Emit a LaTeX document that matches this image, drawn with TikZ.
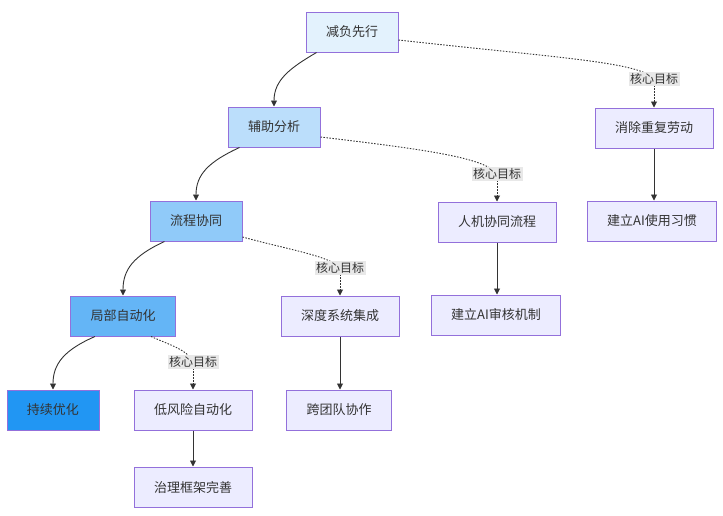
\documentclass[tikz,border=0pt]{standalone}
\usepackage{fontspec}
\setmainfont{Noto Sans CJK SC}
\usetikzlibrary{arrows.meta}
\definecolor{bordc}{HTML}{9370DB}
\definecolor{deff}{HTML}{ECECFF}
\definecolor{fa}{HTML}{E3F2FD}
\definecolor{fb}{HTML}{BBDEFB}
\definecolor{fc}{HTML}{90CAF9}
\definecolor{fd}{HTML}{64B5F6}
\definecolor{fe}{HTML}{2196F3}
\definecolor{txt}{HTML}{333333}
\definecolor{lblbg}{HTML}{E8E8E8}
\tikzset{
  box/.style={draw=bordc, line width=1pt, fill=deff, minimum height=40pt, inner xsep=20pt, inner ysep=0pt, text=txt, font=\fontsize{13}{15}\selectfont},
  lbl/.style={fill=lblbg, inner sep=1.5pt, text=txt, font=\fontsize{12}{14}\selectfont},
  edge/.style={draw=txt, line width=0.9pt},
  tip/.style={-{Triangle[width=6pt,length=6pt]}},
  dotedge/.style={draw=txt, line width=0.9pt, dash pattern=on 1.5pt off 1.5pt},
}
\begin{document}
\begin{tikzpicture}[x=1pt,y=-1pt]
\useasboundingbox (0,0) rectangle (723,515);
\node[box, fill=fa] (a) at (352,32) {减负先行};
\node[box] (b) at (654,128) {消除重复劳动};
\node[box] (c) at (652,221) {建立AI使用习惯};
\node[box, fill=fb] (d) at (274,127) {辅助分析};
\node[box] (e) at (497,222) {人机协同流程};
\node[box] (f) at (496,315) {建立AI审核机制};
\node[box, fill=fc] (g) at (196,221) {流程协同};
\node[box] (h) at (340,316) {深度系统集成};
\node[box] (i) at (339,410) {跨团队协作};
\node[box, fill=fd] (j) at (123,316) {局部自动化};
\node[box, fill=fe] (k) at (53,410) {持续优化};
\node[box] (l) at (193,410) {低风险自动化};
\node[box] (m) at (193,487) {治理框架完善};

% solid curved edges
\draw[edge,tip] (a.south west) ++(11,0) coordinate (a1) .. controls (290,68) and (274,80) .. (d.north);
\draw[edge,tip] (d.south west) ++(12,0) coordinate (d1) .. controls (208,162) and (196,175) .. (g.north);
\draw[edge,tip] (g.south west) ++(15,0) coordinate (g1) .. controls (133,256) and (123,270) .. (j.north);
\draw[edge,tip] (j.south west) ++(25,0) coordinate (j1) .. controls (64,350) and (53,364) .. (k.north);

% straight edges
\draw[edge,tip] (b.south) -- (b.south |- c.north);
\draw[edge,tip] (e.south) -- (e.south |- f.north);
\draw[edge,tip] (h.south) -- (h.south |- i.north);
\draw[edge,tip] (l.south) -- (m.north);

% dotted edges with labels
\coordinate (l1) at (654,79);
\coordinate (l2) at (497,174);
\coordinate (l3) at (340,268);
\coordinate (l4) at (193,362);
\draw[dotedge] (a.east) ++(0,8) coordinate (a2) .. controls (560,58) and (640,62) .. (l1);
\draw[dotedge,tip] (l1) -- (b.north);
\draw[dotedge] (d.east) ++(0,10) coordinate (d2) .. controls (430,150) and (485,158) .. (l2);
\draw[dotedge,tip] (l2) -- (e.north);
\draw[dotedge] (g.east) ++(0,16) coordinate (g2) .. controls (290,250) and (330,256) .. (l3);
\draw[dotedge,tip] (l3) -- (h.north);
\draw[dotedge] (j.south east) ++(-25,0) coordinate (j2) .. controls (170,345) and (188,350) .. (l4);
\draw[dotedge,tip] (l4) -- (l.north);
\node[lbl] (t1) at (l1) {核心目标};
\node[lbl] (t2) at (l2) {核心目标};
\node[lbl] (t3) at (l3) {核心目标};
\node[lbl] (t4) at (l4) {核心目标};
\end{tikzpicture}
\end{document}
